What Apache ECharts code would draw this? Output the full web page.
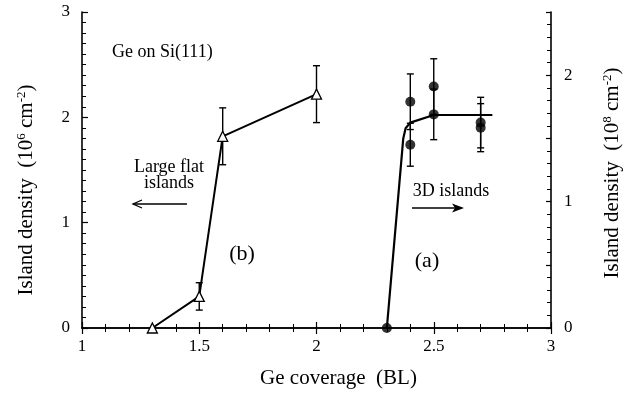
<!DOCTYPE html>
<html>
<head>
<meta charset="utf-8">
<script src="https://cdn.jsdelivr.net/npm/echarts@6/dist/echarts.min.js"></script>
<style>html,body{margin:0;padding:0;background:#fff}#c{width:631px;height:398px}</style>
</head>
<body>
<div id="c"></div>
<script>
// (b) Large flat islands, left axis (10^6 cm^-2)
const triX = [1.3, 1.5, 1.6, 2.0];
const triY = [0, 0.30, 1.82, 2.22];
const triErr = [0, 0.13, 0.27, 0.27];
// (a) 3D islands, right axis (10^8 cm^-2)
const dotX = [2.3, 2.4, 2.4, 2.5, 2.5, 2.7, 2.7];
const dotY = [0, 1.79, 1.45, 1.91, 1.69, 1.625, 1.585];
const dotErr = [0, 0.22, 0.17, 0.22, 0.20, 0.20, 0.19];
// fitted curve for (a)
const fitX = [2.30, 2.37, 2.38, 2.40, 2.50, 2.75];
const fitY = [0, 1.50, 1.58, 1.625, 1.685, 1.685];
// tick labels
const xTicks = [1, 1.5, 2, 2.5, 3];
const leftTicks = [0, 1, 2, 3];
const rightTicks = [0, 1, 2];

const FONT = 'Liberation Serif';
const chart = echarts.init(document.getElementById('c'));

function errBars(params, api) {
  const x = api.value(0), y = api.value(1), e = api.value(2);
  const t = api.coord([x, y + e]), b = api.coord([x, y - e]);
  const hw = 3.5, st = {stroke: '#000', lineWidth: 1.4};
  return {type: 'group', children: [
    {type: 'line', shape: {x1: t[0], y1: t[1], x2: b[0], y2: b[1]}, style: st},
    {type: 'line', shape: {x1: t[0] - hw, y1: t[1], x2: t[0] + hw, y2: t[1]}, style: st},
    {type: 'line', shape: {x1: b[0] - hw, y1: b[1], x2: b[0] + hw, y2: b[1]}, style: st}
  ]};
}

const axisCommon = {
  axisLine: {show: true, lineStyle: {color: '#000', width: 1.6}},
  axisTick: {show: true, inside: true, length: 6, lineStyle: {color: '#000', width: 1.2}},
  minorTick: {show: true, length: 4, lineStyle: {color: '#000', width: 1}},
  splitLine: {show: false},
  minorSplitLine: {show: false}
};
const labelStyle = {color: '#000', fontFamily: FONT, fontSize: 17};
const sup = {fontFamily: FONT, fontSize: 13, color: '#000', verticalAlign: 'bottom', padding: [0, 0, 10, 0]};
const nameStyle = {fontFamily: FONT, fontSize: 21, color: '#000', rich: {sup: sup}};

chart.setOption({
  animation: false,
  backgroundColor: '#fff',
  grid: {left: 82, right: 76, top: 12, bottom: 70},
  xAxis: [
    Object.assign({}, axisCommon, {
      type: 'value', min: 1, max: 3, interval: 0.5, position: 'bottom',
      minorTick: Object.assign({}, axisCommon.minorTick, {splitNumber: 5}),
      axisLabel: Object.assign({}, labelStyle, {margin: 10,
        formatter: v => xTicks.includes(v) ? String(v) : ''}),
      name: 'Ge coverage  (BL)', nameLocation: 'middle', nameGap: 40,
      nameTextStyle: Object.assign({}, nameStyle, {padding: [0, 0, 0, 44]})
    }),
    Object.assign({}, axisCommon, {
      type: 'value', min: 1, max: 3, interval: 0.5, position: 'top',
      minorTick: Object.assign({}, axisCommon.minorTick, {splitNumber: 5}),
      axisLabel: {show: false}
    })
  ],
  yAxis: [
    Object.assign({}, axisCommon, {
      type: 'value', min: 0, max: 3, interval: 1, position: 'left',
      minorTick: Object.assign({}, axisCommon.minorTick, {splitNumber: 10}),
      axisLabel: Object.assign({}, labelStyle, {margin: 12,
        formatter: v => leftTicks.includes(v) ? String(v) : ''}),
      name: 'Island density  (10{sup|6} cm{sup|-2})', nameLocation: 'middle', nameRotate: 90, nameGap: 44,
      nameTextStyle: Object.assign({}, nameStyle, {padding: [0, 40, 0, 0]})
    }),
    Object.assign({}, axisCommon, {
      type: 'value', min: 0, max: 2.5, interval: 0.5, position: 'right',
      axisTick: Object.assign({}, axisCommon.axisTick, {length: 5}),
      minorTick: Object.assign({}, axisCommon.minorTick, {splitNumber: 5}),
      axisLabel: Object.assign({}, labelStyle, {margin: 13,
        formatter: v => rightTicks.includes(v) ? String(v) : ''}),
      name: 'Island density  (10{sup|8} cm{sup|-2})', nameLocation: 'middle', nameRotate: 90, nameGap: 50,
      nameTextStyle: Object.assign({}, nameStyle, {padding: [0, 6, 0, 0]})
    })
  ],
  series: [
    {
      type: 'custom', xAxisIndex: 0, yAxisIndex: 0, renderItem: errBars, clip: false, z: 3,
      data: triX.map((x, i) => [x, triY[i], triErr[i]]).filter(d => d[2] > 0)
    },
    {
      type: 'line', xAxisIndex: 0, yAxisIndex: 0, clip: false, z: 4,
      data: triX.map((x, i) => [x, triY[i]]),
      lineStyle: {color: '#000', width: 2},
      symbol: 'triangle', symbolSize: 10,
      itemStyle: {color: '#fff', borderColor: '#000', borderWidth: 1.3}
    },
    {
      type: 'custom', xAxisIndex: 0, yAxisIndex: 1, renderItem: errBars, clip: false, z: 3,
      data: dotX.map((x, i) => [x, dotY[i], dotErr[i]]).filter(d => d[2] > 0)
    },
    {
      type: 'line', xAxisIndex: 0, yAxisIndex: 1, clip: false, z: 4,
      data: fitX.map((x, i) => [x, fitY[i]]),
      lineStyle: {color: '#000', width: 2.2}, symbol: 'none', smooth: false
    },
    {
      type: 'scatter', xAxisIndex: 0, yAxisIndex: 1, clip: false, z: 5,
      data: dotX.map((x, i) => [x, dotY[i]]),
      symbol: 'circle', symbolSize: 10, itemStyle: {color: '#000'}
    }
  ],
  graphic: [
    {type: 'text', x: 112, y: 52, style: {text: 'Ge on Si(111)', font: '18px "Liberation Serif"', fill: '#000', verticalAlign: 'middle'}},
    {type: 'text', x: 169, y: 159, style: {text: 'Large flat\nislands', font: '18px "Liberation Serif"', fill: '#000', align: 'center', lineHeight: 16}},
    {type: 'line', shape: {x1: 133, y1: 204, x2: 187, y2: 204}, style: {stroke: '#000', lineWidth: 1.3}},
    {type: 'polyline', shape: {points: [[142, 200], [133, 204], [142, 208]]}, style: {stroke: '#000', lineWidth: 1.3, fill: null}},
    {type: 'text', x: 242, y: 254, style: {text: '(b)', font: '22px "Liberation Serif"', fill: '#000', align: 'center', verticalAlign: 'middle'}},
    {type: 'text', x: 451, y: 191, style: {text: '3D islands', font: '18px "Liberation Serif"', fill: '#000', align: 'center', verticalAlign: 'middle'}},
    {type: 'line', shape: {x1: 412, y1: 208, x2: 462, y2: 208}, style: {stroke: '#000', lineWidth: 1.3}},
    {type: 'polygon', shape: {points: [[464, 208], [452, 203.5], [455, 208], [452, 212.5]]}, style: {fill: '#000'}},
    {type: 'text', x: 427, y: 261, style: {text: '(a)', font: '22px "Liberation Serif"', fill: '#000', align: 'center', verticalAlign: 'middle'}}
  ]
});
</script>
</body>
</html>
